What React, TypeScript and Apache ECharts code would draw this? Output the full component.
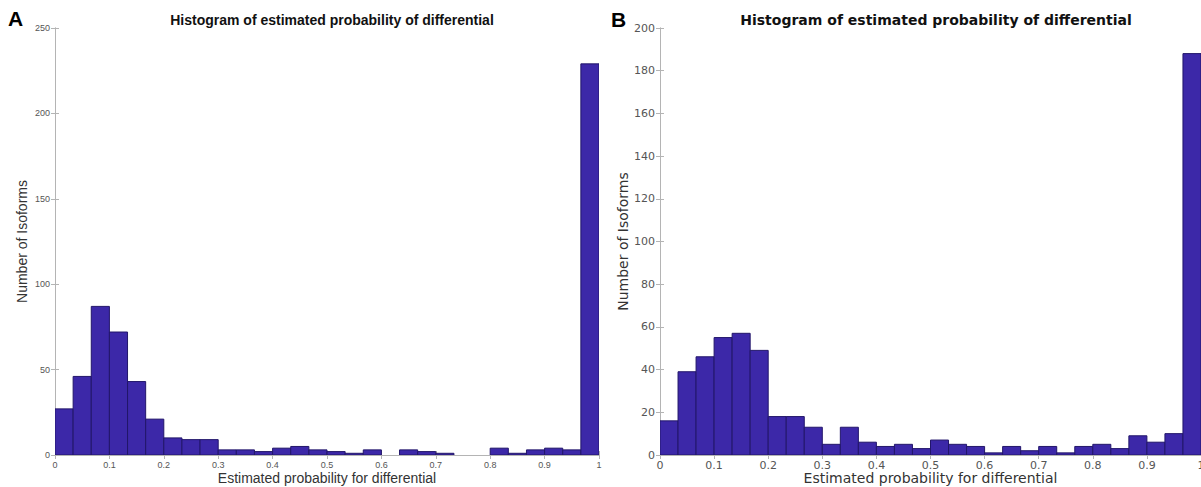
import React, { useEffect, useRef } from "react";
import * as echarts from "echarts";

const binCount = 30;
const countsA = [27, 46, 87, 72, 43, 21, 10, 9, 9, 3, 3, 2, 4, 5, 3, 2, 1, 3, 0, 3, 2, 1, 0, 0, 4, 1, 3, 4, 3, 229];
const countsB = [16, 39, 46, 55, 57, 49, 18, 18, 13, 5, 13, 6, 4, 5, 3, 7, 5, 4, 1, 4, 2, 4, 1, 4, 5, 3, 9, 6, 10, 188];
const titleText = "Histogram of estimated probability of differential";
const xName = "Estimated probability for differential";
const yName = "Number of Isoforms";
const yMaxA = 250;
const yStepA = 50;
const yMaxB = 200;
const yStepB = 20;

const BAR = "#3c28a8";
const EDGE = "#22166a";
const AXIS = "#b4b4b4";

function toBins(counts: number[]) {
  return counts.map((c, i) => [i / binCount, (i + 1) / binCount, c]);
}

function renderBar(params: any, api: any) {
  const s = api.value(0);
  const e = api.value(1);
  const c = api.value(2);
  if (c <= 0) return null;
  const p0 = api.coord([s, c]);
  const p1 = api.coord([e, 0]);
  return {
    type: "rect",
    shape: { x: p0[0], y: p0[1], width: p1[0] - p0[0], height: p1[1] - p0[1] },
    style: { fill: BAR, stroke: EDGE, lineWidth: 1 },
  };
}

export default function App() {
  const ref = useRef<HTMLDivElement>(null);
  useEffect(() => {
    if (!ref.current) return;
    const chart = echarts.init(ref.current, null, { renderer: "svg" });
    const fontA = "Liberation Sans, Arial, sans-serif";
    const fontB = "DejaVu Sans, sans-serif";
    const mkX = (gi: number, font: string, size: number, nameSize: number, gap: number) => [
      {
        type: "value",
        gridIndex: gi,
        min: 0,
        max: 1,
        interval: 0.1,
        name: xName,
        nameLocation: "middle",
        nameGap: gap,
        nameMoveOverlap: false,
        nameTextStyle: { fontFamily: font, fontSize: nameSize, color: "#333", lineHeight: nameSize, verticalAlign: "top" },
        axisLine: { lineStyle: { color: AXIS, width: 1 } },
        axisTick: { inside: true, length: 4, lineStyle: { color: AXIS } },
        axisLabel: { fontFamily: font, fontSize: size, color: "#555", margin: 5, formatter: (v: number) => String(+v.toFixed(1)) },
        splitLine: { show: false },
      },
      {
        type: "value",
        gridIndex: gi,
        position: "top",
        min: 0,
        max: 1,
        interval: 0.1,
        axisLine: { lineStyle: { color: AXIS, width: 1 } },
        axisTick: { inside: true, length: 4, lineStyle: { color: AXIS } },
        axisLabel: { show: false },
        splitLine: { show: false },
      },
    ];
    const mkY = (gi: number, max: number, step: number, font: string, size: number, nameSize: number, gap: number) => [
      {
        type: "value",
        gridIndex: gi,
        min: 0,
        max,
        interval: step,
        name: yName,
        nameLocation: "middle",
        nameGap: gap,
        nameMoveOverlap: false,
        nameTextStyle: { fontFamily: font, fontSize: nameSize, color: "#333" },
        axisLine: { show: true, lineStyle: { color: AXIS, width: 1 } },
        axisTick: { show: true, inside: true, length: 4, lineStyle: { color: AXIS } },
        axisLabel: { fontFamily: font, fontSize: size, color: "#555", margin: 5 },
        splitLine: { show: false },
      },
      {
        type: "value",
        gridIndex: gi,
        position: "right",
        min: 0,
        max,
        interval: step,
        axisLine: { show: true, lineStyle: { color: AXIS, width: 1 } },
        axisTick: { show: true, inside: true, length: 4, lineStyle: { color: AXIS } },
        axisLabel: { show: false },
        splitLine: { show: false },
      },
    ];
    chart.setOption({
      animation: false,
      backgroundColor: "#ffffff",
      title: [
        { text: titleText, left: 327, top: 8, textAlign: "center", textStyle: { fontFamily: fontA, fontSize: 14, fontWeight: "bold", color: "#111" } },
        { text: titleText, left: 931, top: 8, textAlign: "center", textStyle: { fontFamily: fontB, fontSize: 14, fontWeight: "bold", color: "#111" } },
      ],
      graphic: [
        { type: "text", left: 8, top: 8, style: { text: "A", font: "bold 21px Liberation Sans, Arial, sans-serif", fill: "#000" } },
        { type: "text", left: 611, top: 9, style: { text: "B", font: "bold 21px Liberation Sans, Arial, sans-serif", fill: "#000" } },
      ],
      grid: [
        { left: 55, top: 28, width: 544, height: 427, outerBoundsMode: "none", containLabel: false },
        { left: 660, top: 28, width: 541, height: 427, outerBoundsMode: "none", containLabel: false },
      ],
      xAxis: [...mkX(0, fontA, 9, 14, 16), ...mkX(1, fontB, 11, 14, 16)],
      yAxis: [...mkY(0, yMaxA, yStepA, fontA, 9, 14, 26), ...mkY(1, yMaxB, yStepB, fontB, 11, 14, 30)],
      series: [
        { type: "custom", xAxisIndex: 0, yAxisIndex: 0, renderItem: renderBar, data: toBins(countsA), clip: true },
        { type: "custom", xAxisIndex: 2, yAxisIndex: 2, renderItem: renderBar, data: toBins(countsB), clip: true },
      ],
    });
    return () => chart.dispose();
  }, []);
  return <div ref={ref} style={{ position: "fixed", left: 0, top: 0, width: 1201, height: 487 }} />;
}
